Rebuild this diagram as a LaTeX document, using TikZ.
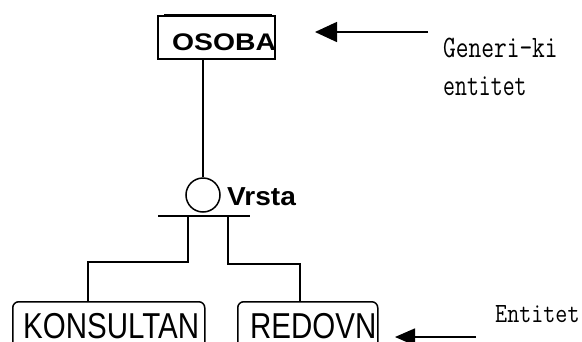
\documentclass[tikz,border=0pt]{standalone}
\usepackage{fontspec}
\setmainfont{Liberation Sans}
\usetikzlibrary{arrows.meta}
\tikzset{
  ln/.style={line width=1.5pt},
  ent/.style={draw, line width=1.5pt, rounded corners=6pt, inner sep=0pt},
  lbl/.style={anchor=base west, inner sep=0pt},
  arr/.style={line width=1.5pt, -{Triangle[length=22pt,width=20pt]}},
}
\begin{document}
\begin{tikzpicture}[x=1pt,y=-1pt]
\clip (0,0) rectangle (582,341);
\fill[white] (0,0) rectangle (582,341);
% generic entity
\node[draw, line width=1.5pt, minimum width=117pt, minimum height=43pt, inner sep=0pt] (osoba) at (216.5,37.5) {};
\draw[line width=1.2pt] (164,14.5) -- (272,14.5);
\node[lbl] (osobaT) at (172,50.5) {\scalebox{1.18}[1]{\fontsize{24}{26}\selectfont\bfseries OSOBA}};
% category circle
\node[draw, ln, circle, minimum size=34pt, inner sep=0pt] (circ) at (203,195) {};
\node[lbl] (vrsta) at (227,205) {\scalebox{1.08}[1]{\fontsize{26}{28}\selectfont\bfseries Vrsta}};
\draw[ln] (circ.north) -- (circ.north |- osoba.south);
\coordinate (barL) at (158,216);
\coordinate (barR) at (250,216);
\draw[ln] (barL) -- (barR);
% sub entities
\node[ent, minimum width=192pt, minimum height=80pt, anchor=north west] (kons) at (12,301) {};
\node[ent, minimum width=140pt, minimum height=80pt, anchor=north west] (redo) at (237,301) {};
\node[lbl] (konsT) at (23,338) {\scalebox{1}[1.22]{\fontsize{29.5}{31}\selectfont KONSULTAN}};
\node[lbl] (redoT) at (250,338) {\scalebox{1}[1.22]{\fontsize{29.5}{31}\selectfont REDOVN}};
\draw[ln] (188,216) |- (88,262) -- (88,301);
\draw[ln] (228,216) |- (300,264) -- (300,301);
% annotations
\node[lbl] (gen) at (443,57) {\scalebox{0.95}[1.2]{\ttfamily\fontsize{26}{28}\selectfont Generi-ki}};
\node[lbl] (gen2) at (443,95) {\scalebox{0.89}[1.2]{\ttfamily\fontsize{26}{28}\selectfont entitet}};
\node[lbl] (entT) at (495,322) {\scalebox{0.9}[1.07]{\ttfamily\fontsize{26}{28}\selectfont Entitet}};
\coordinate (a1s) at (428,32);
\coordinate (a1e) at (315,32);
\draw[arr] (a1s) -- (a1e);
\coordinate (a2s) at (476,337);
\coordinate (a2e) at (395,337);
\draw[line width=1.5pt, -{Triangle[length=20pt,width=17pt]}] (a2s) -- (a2e);
\end{tikzpicture}
\end{document}
